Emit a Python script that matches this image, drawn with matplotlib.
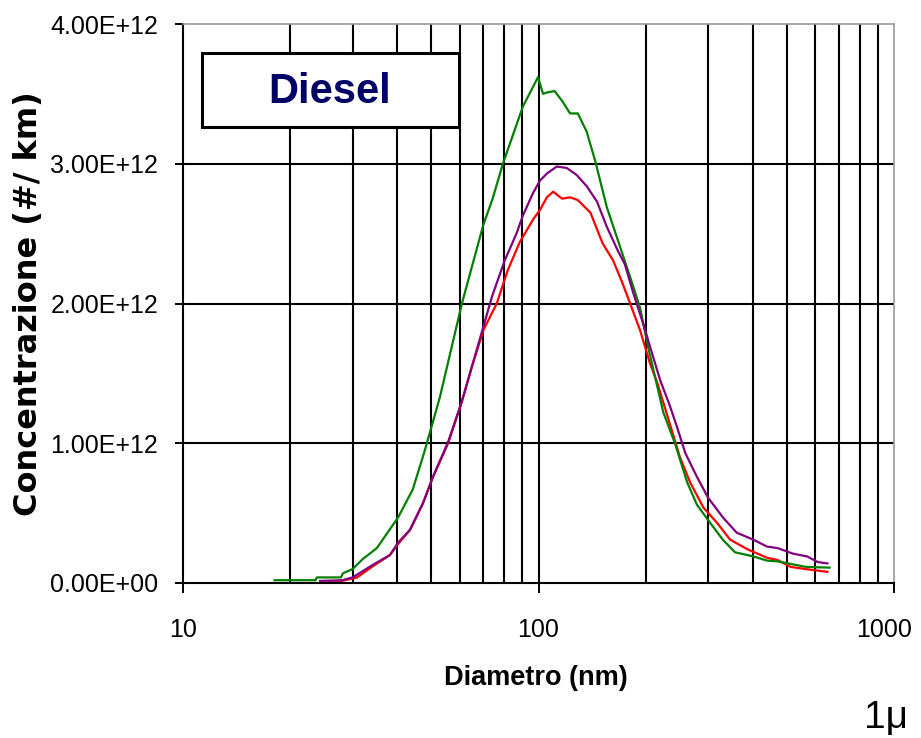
import matplotlib
matplotlib.use("Agg")
import matplotlib.pyplot as plt
import matplotlib.transforms as mtransforms
from matplotlib.patches import Rectangle
from matplotlib.ticker import FixedLocator, FuncFormatter, NullLocator

# Diametro (nm) e concentrazione (unita di 1E12 #/km)
d_green = [18.1, 23.6, 23.8, 27.8, 28.2, 30, 32, 35.1, 40.3, 44.3, 47.9, 52.8,
           60.9, 69.9, 74.3, 79.4, 90.4, 99.7, 103, 105.6, 111, 116.5, 122.7,
           129, 136.6, 144.4, 155.6, 169.9, 181, 193, 203.7, 224.5, 242, 262,
           279, 300, 330, 357, 402, 440, 470, 566, 659]
c_green = [0.02, 0.02, 0.04, 0.04, 0.07, 0.1, 0.17, 0.25, 0.47, 0.67, 0.95, 1.33,
           2.0, 2.56, 2.75, 3.0, 3.41, 3.62, 3.5, 3.51, 3.52, 3.45, 3.36,
           3.36, 3.23, 3.02, 2.69, 2.40, 2.19, 1.97, 1.68, 1.22, 1.0, 0.72,
           0.56, 0.45, 0.31, 0.22, 0.19, 0.16, 0.155, 0.115, 0.11]

d_purple = [24.3, 28, 30, 34.2, 38.2, 40.3, 43.5, 47.3, 50.5, 55.7, 60.9, 69.9,
            74, 80.4, 86.7, 90.4, 96.5, 101, 105.6, 112.5, 120, 128, 136.6, 146,
            155.6, 167, 175, 184.5, 199.6, 206, 220, 234, 245, 258.8, 279, 300,
            330, 361, 402, 440, 470, 520, 570, 610, 650]
c_purple = [0.015, 0.02, 0.04, 0.13, 0.2, 0.29, 0.38, 0.57, 0.76, 1.01, 1.3, 1.83,
            2.05, 2.31, 2.5, 2.63, 2.79, 2.88, 2.93, 2.98, 2.97, 2.92, 2.84, 2.73,
            2.55, 2.38, 2.28, 2.08, 1.81, 1.69, 1.45, 1.27, 1.12, 0.93, 0.76, 0.61,
            0.47, 0.36, 0.31, 0.26, 0.25, 0.21, 0.19, 0.15, 0.14]

d_red = [25.6, 28, 30.9, 34.2, 38.2, 40.3, 43.5, 47.3, 50.5, 55.7, 60.9, 65, 70,
         76.3, 82, 88.6, 96.5, 101, 105.6, 110, 116.5, 122.7, 129, 140, 151.5,
         162, 172, 181, 193, 206, 216, 234, 250, 267, 291, 318, 346, 388, 440,
         470, 512, 590, 650]
c_red = [0.01, 0.015, 0.04, 0.12, 0.2, 0.28, 0.38, 0.57, 0.76, 1.0, 1.3, 1.55, 1.81,
         2.0, 2.24, 2.44, 2.6, 2.67, 2.76, 2.80, 2.75, 2.76, 2.74, 2.65, 2.43,
         2.31, 2.15, 2.0, 1.81, 1.57, 1.43, 1.14, 0.9, 0.72, 0.54, 0.43, 0.31, 0.24, 0.18,
         0.165, 0.115, 0.093, 0.08]

x_ticks = [10, 100, 1000]
x_grid = [20, 30, 40, 50, 60, 70, 80, 90, 100, 200, 300, 400, 500, 600, 700, 800, 900]
y_ticks = [0, 1e12, 2e12, 3e12, 4e12]
y_grid = [1e12, 2e12, 3e12]

sans = ["Liberation Sans", "DejaVu Sans"]

fig = plt.figure(figsize=(9.21, 7.38), dpi=100)
ax = fig.add_axes([183 / 921, 1 - 583 / 738, 711 / 921, 559 / 738])

for x in x_grid:
    ax.axvline(x, color="black", lw=1.5, zorder=1)
for y in y_grid:
    ax.axhline(y, color="black", lw=1.5, zorder=1)

ax.plot(d_green, [v * 1e12 for v in c_green], color="#008000", lw=1.6, zorder=3)
ax.plot(d_purple, [v * 1e12 for v in c_purple], color="#800080", lw=1.6, zorder=3)
ax.plot(d_red, [v * 1e12 for v in c_red], color="#ff0000", lw=1.6, zorder=2)

ax.set_xscale("log")
ax.set_xlim(10, 1000)
ax.set_ylim(0, 4e12)
ax.xaxis.set_major_locator(FixedLocator(x_ticks))
ax.xaxis.set_minor_locator(NullLocator())
ax.xaxis.set_major_formatter(FuncFormatter(lambda v, p: f"{int(round(v))}"))
ax.yaxis.set_major_locator(FixedLocator(y_ticks))
ax.yaxis.set_major_formatter(FuncFormatter(lambda v, p: f"{v:.2E}"))

ax.tick_params(axis="y", direction="out", length=6, width=1.4, pad=12, labelsize=18)
ax.tick_params(axis="x", direction="out", length=7, width=1.4, pad=18, labelsize=18)
for lab in ax.get_xticklabels() + ax.get_yticklabels():
    lab.set_family(sans)

# "1000" leggermente spostato a sinistra, come nell'originale
last = ax.xaxis.get_major_ticks()[-1].label1
last.set_transform(last.get_transform() +
                   mtransforms.ScaledTranslation(-7 / 72, 0, fig.dpi_scale_trans))

for s in ["left", "bottom"]:
    ax.spines[s].set_color("black")
    ax.spines[s].set_linewidth(1.5)
for s in ["top", "right"]:
    ax.spines[s].set_color("#999999")
    ax.spines[s].set_linewidth(1.2)

ax.set_xlabel("Diametro (nm)", fontsize=19.5, fontweight="bold", family=sans)
ax.xaxis.set_label_coords(0.4965, -0.146)
ax.set_ylabel("Concentrazione (#/ km)", fontsize=23, fontweight="bold")
ax.yaxis.set_label_coords(-0.195, 0.5)

# riquadro con il titolo
fig.patches.append(Rectangle((202 / 921, 1 - 127 / 738), 257 / 921, 74 / 738,
                             transform=fig.transFigure, facecolor="white",
                             edgecolor="black", lw=2.2, zorder=5))
fig.text(330 / 921, 1 - 92 / 738, "Diesel", fontsize=30, fontweight="bold",
         color="#000066", family=sans, ha="center", va="center", zorder=6)

fig.text(864 / 921, 1 - 728 / 738, "1μ", fontsize=28, family=sans,
         ha="left", va="baseline")

fig.savefig("out.png", dpi=100)
